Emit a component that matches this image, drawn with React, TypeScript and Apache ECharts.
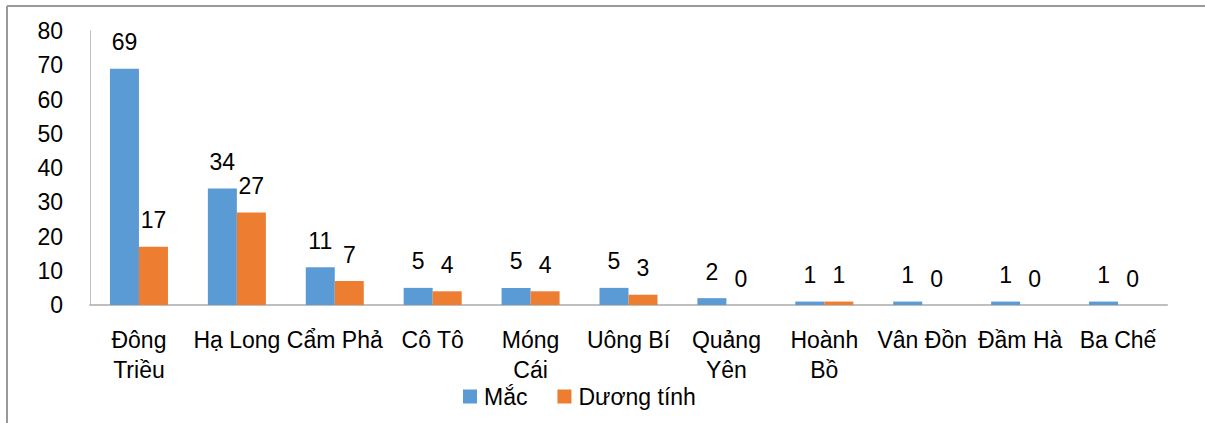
import React, { useEffect, useRef } from "react";
import * as echarts from "echarts";

const categories = [
  "Đông\nTriều",
  "Hạ Long",
  "Cẩm Phả",
  "Cô Tô",
  "Móng\nCái",
  "Uông Bí",
  "Quảng\nYên",
  "Hoành\nBồ",
  "Vân Đồn",
  "Đầm Hà",
  "Ba Chế",
];
const macValues = [69, 34, 11, 5, 5, 5, 2, 1, 1, 1, 1];
const duongTinhValues = [17, 27, 7, 4, 4, 3, 0, 1, 0, 0, 0];
const seriesNames = ["Mắc", "Dương tính"];
const yTicks = { min: 0, max: 80, interval: 10 };

const FONT = "'Liberation Sans', Arial, sans-serif";

export default function App() {
  const ref = useRef<HTMLDivElement>(null);
  useEffect(() => {
    if (!ref.current) return;
    const chart = echarts.init(ref.current, null, { renderer: "svg" });
    const labelStyle = {
      show: true,
      position: "top",
      distance: 15,
      color: "#000",
      fontSize: 23,
      fontFamily: FONT,
    };
    chart.setOption({
      animation: false,
      backgroundColor: "#fff",
      textStyle: { fontFamily: FONT },
      grid: { left: 90, right: 38, top: 31, bottom: 118, containLabel: false },
      legend: {
        left: 458,
        top: 380,
        icon: "rect",
        itemWidth: 14,
        itemHeight: 14,
        itemGap: 30,
        textStyle: { fontSize: 23, color: "#000", fontFamily: FONT, padding: [0, 0, 0, 2] },
        data: seriesNames,
      },
      xAxis: {
        type: "category",
        data: categories,
        axisLine: { lineStyle: { color: "#bfbfbf", width: 2 } },
        axisTick: { show: false },
        axisLabel: {
          interval: 0,
          color: "#000",
          fontSize: 23,
          fontFamily: FONT,
          lineHeight: 30,
          margin: 20,
        },
      },
      yAxis: {
        type: "value",
        min: yTicks.min,
        max: yTicks.max,
        interval: yTicks.interval,
        splitLine: { show: false },
        axisLine: { show: true, lineStyle: { color: "#bfbfbf", width: 1 } },
        axisTick: { show: false },
        axisLabel: { color: "#000", fontSize: 23, fontFamily: FONT, margin: 27 },
      },
      series: [
        {
          name: seriesNames[0],
          type: "bar",
          data: macValues,
          itemStyle: { color: "#5b9bd5" },
          barWidth: 29,
          barGap: "0%",
          label: labelStyle,
        },
        {
          name: seriesNames[1],
          type: "bar",
          data: duongTinhValues,
          itemStyle: { color: "#ed7d31" },
          barWidth: 29,
          barGap: "0%",
          label: labelStyle,
        },
      ],
      graphic: [
        {
          type: "line",
          shape: { x1: 7, y1: 6, x2: 1205, y2: 6 },
          style: { stroke: "#9a9a9a", lineWidth: 2 },
        },
        {
          type: "line",
          shape: { x1: 7, y1: 6, x2: 7, y2: 423 },
          style: { stroke: "#9a9a9a", lineWidth: 2 },
        },
      ],
    });
    return () => chart.dispose();
  }, []);
  return (
    <div
      ref={ref}
      style={{ position: "absolute", left: 0, top: 0, width: 1205, height: 423 }}
    />
  );
}
